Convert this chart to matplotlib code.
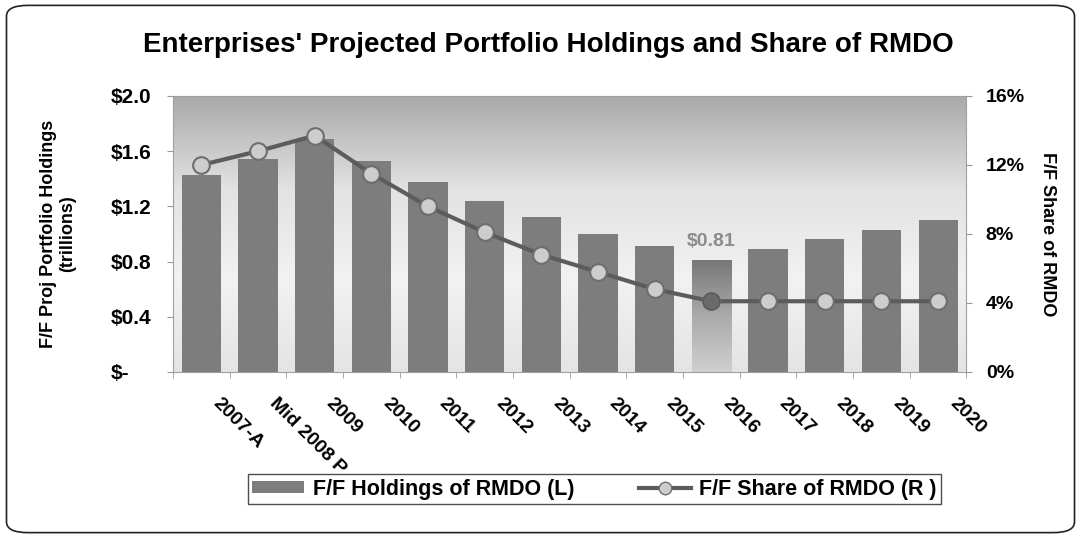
import numpy as np
import matplotlib
matplotlib.use("Agg")
import matplotlib.pyplot as plt
from matplotlib.colors import LinearSegmentedColormap
from matplotlib.lines import Line2D
from matplotlib.patches import FancyBboxPatch, Patch
from matplotlib.ticker import FuncFormatter, MultipleLocator
import matplotlib.transforms as mtransforms

plt.rcParams["font.family"] = ["Liberation Sans", "DejaVu Sans"]
plt.rcParams["font.weight"] = "bold"

# data
years = ["2007-A", "Mid 2008 P", "2009", "2010", "2011", "2012", "2013",
         "2014", "2015", "2016", "2017", "2018", "2019", "2020"]
holdings = [1.43, 1.54, 1.69, 1.53, 1.38, 1.24, 1.12, 1.00, 0.91, 0.81,
            0.89, 0.96, 1.03, 1.10]          # trillions
share = [12.0, 12.8, 13.7, 11.5, 9.6, 8.1, 6.8, 5.8, 4.8, 4.1,
         4.1, 4.1, 4.1, 4.1]                 # percent
low_year = "2016"

fig = plt.figure(figsize=(10.81, 5.38), dpi=100)
ax = fig.add_axes([0.160, 0.3086, 0.734, 0.513])

# rounded frame round the whole chart
fig.patches.append(FancyBboxPatch((0.006, 0.01), 0.988, 0.98,
                                  boxstyle="round,pad=0,rounding_size=0.02",
                                  transform=fig.transFigure, fill=False,
                                  edgecolor="#222222", linewidth=1.2))

x = np.arange(len(years))
ax.set_xlim(-0.5, len(years) - 0.5)
ax.set_ylim(0, 2.0)

# gradient plot background: grey at top, fading to near white
bg = LinearSegmentedColormap.from_list("bg", ["#e4e4e4", "#f2f2f2", "#e2e2e2", "#a9a9a9"])
grad = np.linspace(0, 1, 256).reshape(-1, 1)
ax.imshow(grad, cmap=bg, aspect="auto", origin="lower",
          extent=[0, 1, 0, 1], transform=ax.transAxes, zorder=0)

bar_colors = ["#7d7d7d"] * len(years)
bars = ax.bar(x, holdings, width=0.69, color=bar_colors, zorder=2)

# highlighted 2016 bar: dark at top, light toward bottom
i_low = years.index(low_year)
hb = bars[i_low]
hb.set_facecolor("none")
hl = LinearSegmentedColormap.from_list("hl", ["#d0d0d0", "#aaaaaa", "#787878"])
im = ax.imshow(grad, cmap=hl, aspect="auto", origin="lower",
               extent=[hb.get_x(), hb.get_x() + hb.get_width(), 0, hb.get_height()],
               zorder=2)
im.set_clip_path(hb)
ax.annotate(f"${holdings[i_low]:.2f}", (x[i_low], holdings[i_low]),
            xytext=(0, 7), textcoords="offset points", ha="center", va="bottom",
            color="#8c8c8c", fontsize=14, fontweight="bold")

ax.yaxis.set_major_locator(MultipleLocator(0.4))
ax.yaxis.set_major_formatter(FuncFormatter(
    lambda v, p: "$-" if v == 0 else f"${v:.1f}"))
ax.tick_params(axis="y", labelsize=15, length=4, color="#999999", pad=41)
for lab in ax.get_yticklabels():
    lab.set_horizontalalignment("left")

ax.set_xticks(x)
ax.set_xticklabels(years, rotation=-45, ha="left", va="top",
                   rotation_mode="anchor", fontsize=14)
ax.set_xticks(np.arange(-0.5, len(years)), minor=True)
ax.tick_params(axis="x", which="major", length=0, pad=16.5)
ax.tick_params(axis="x", which="minor", length=4, color="#999999")
shift = mtransforms.ScaledTranslation(0.2, 0, fig.dpi_scale_trans)
for lab in ax.get_xticklabels():
    lab.set_transform(lab.get_transform() + shift)

for s in ax.spines.values():
    s.set_color("#a0a0a0")
    s.set_linewidth(0.8)

ax.set_ylabel("F/F Proj Portfolio Holdings\n(trillions)", fontsize=13,
              fontweight="bold", labelpad=25, linespacing=1.1)

ax2 = ax.twinx()
ax2.set_ylim(0, 16)
ax2.yaxis.set_major_locator(MultipleLocator(4))
ax2.yaxis.set_major_formatter(FuncFormatter(lambda v, p: f"{v:.0f}%"))
ax2.tick_params(axis="y", labelsize=14, length=4, color="#999999", pad=10)
for s in ax2.spines.values():
    s.set_visible(False)
ax2.plot(x, share, color="#5c5c5c", linewidth=3, marker="o", markersize=12,
         markerfacecolor="#cdcdcd", markeredgecolor="#6e6e6e",
         markeredgewidth=1.5, zorder=3)
ax2.plot(x[i_low], share[i_low], marker="o", markersize=12, linestyle="none",
         markerfacecolor="#6a6a6a", markeredgecolor="#5a5a5a", zorder=4)
ax2.set_ylabel("F/F Share of RMDO", rotation=-90, fontsize=13,
               fontweight="bold", labelpad=10, va="bottom")

fig.suptitle("Enterprises' Projected Portfolio Holdings and Share of RMDO",
             x=0.507, y=0.94, fontsize=20, fontweight="bold")

handles = [Patch(facecolor="#7d7d7d", edgecolor="none"),
           Line2D([], [], color="#5c5c5c", linewidth=3, marker="o",
                  markersize=9, markerfacecolor="#cdcdcd",
                  markeredgecolor="#6e6e6e")]
leg = fig.legend(handles, ["F/F Holdings of RMDO (L)", "F/F Share of RMDO (R )"],
                 loc="center", bbox_to_anchor=(0.55, 0.091), ncol=2,
                 frameon=True, fancybox=False, fontsize=15.5,
                 handlelength=2.4, handleheight=0.5, handletextpad=0.4,
                 columnspacing=3.0, borderpad=0.2)
leg.get_frame().set_edgecolor("#222222")
leg.get_frame().set_linewidth(1.0)

fig.savefig("out.png", dpi=100)
